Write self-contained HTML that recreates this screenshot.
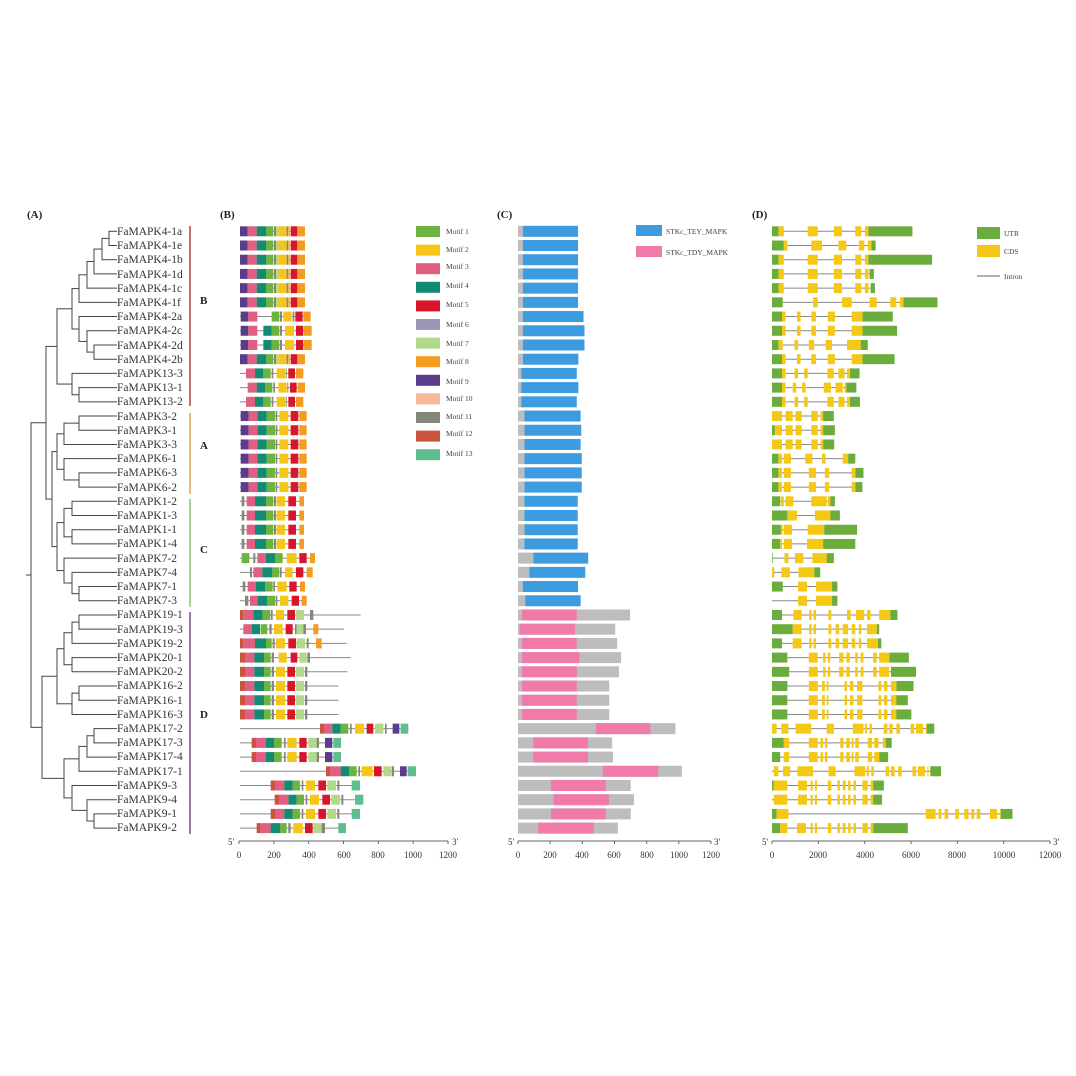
<!DOCTYPE html>
<html><head><meta charset="utf-8"><style>
html,body{margin:0;padding:0;background:#fff;}
svg{display:block;font-family:"Liberation Serif",serif;}
.g{font-size:11.5px;fill:#333;}
.t{font-size:9px;fill:#333;}
.lg{font-size:7.5px;fill:#444;}
.p{font-size:11px;font-weight:bold;fill:#222;}
</style></head><body>
<svg id="s" width="1076" height="1076" viewBox="0 0 1076 1076" xmlns="http://www.w3.org/2000/svg">
<rect width="1076" height="1076" fill="#fff"/>
<g id="shapes"></g>
<text class="p" x="27" y="218">(A)</text>
<text class="p" x="220" y="218">(B)</text>
<text class="p" x="497" y="218">(C)</text>
<text class="p" x="752" y="218">(D)</text>
<g class="g">
<text x="117" y="235">FaMAPK4-1a</text><text x="117" y="249">FaMAPK4-1e</text><text x="117" y="263">FaMAPK4-1b</text><text x="117" y="278">FaMAPK4-1d</text><text x="117" y="292">FaMAPK4-1c</text><text x="117" y="306">FaMAPK4-1f</text><text x="117" y="320">FaMAPK4-2a</text><text x="117" y="334">FaMAPK4-2c</text><text x="117" y="349">FaMAPK4-2d</text><text x="117" y="363">FaMAPK4-2b</text><text x="117" y="377">FaMAPK13-3</text><text x="117" y="391">FaMAPK13-1</text><text x="117" y="405">FaMAPK13-2</text>
<text x="117" y="420">FaMAPK3-2</text><text x="117" y="434">FaMAPK3-1</text><text x="117" y="448">FaMAPK3-3</text><text x="117" y="462">FaMAPK6-1</text><text x="117" y="476">FaMAPK6-3</text><text x="117" y="491">FaMAPK6-2</text>
<text x="117" y="505">FaMAPK1-2</text><text x="117" y="519">FaMAPK1-3</text><text x="117" y="533">FaMAPK1-1</text><text x="117" y="547">FaMAPK1-4</text><text x="117" y="562">FaMAPK7-2</text><text x="117" y="576">FaMAPK7-4</text><text x="117" y="590">FaMAPK7-1</text><text x="117" y="604">FaMAPK7-3</text>
<text x="117" y="618">FaMAPK19-1</text><text x="117" y="633">FaMAPK19-3</text><text x="117" y="647">FaMAPK19-2</text><text x="117" y="661">FaMAPK20-1</text><text x="117" y="675">FaMAPK20-2</text><text x="117" y="689">FaMAPK16-2</text><text x="117" y="704">FaMAPK16-1</text><text x="117" y="718">FaMAPK16-3</text><text x="117" y="732">FaMAPK17-2</text><text x="117" y="746">FaMAPK17-3</text><text x="117" y="760">FaMAPK17-4</text><text x="117" y="775">FaMAPK17-1</text><text x="117" y="789">FaMAPK9-3</text><text x="117" y="803">FaMAPK9-4</text><text x="117" y="817">FaMAPK9-1</text><text x="117" y="831">FaMAPK9-2</text>
</g>
<text class="p" x="200" y="304">B</text>
<text class="p" x="200" y="449">A</text>
<text class="p" x="200" y="553">C</text>
<text class="p" x="200" y="718">D</text>
<g class="lg">
<text x="446" y="234">Motif 1</text><text x="446" y="252">Motif 2</text><text x="446" y="269">Motif 3</text><text x="446" y="288">Motif 4</text><text x="446" y="307">Motif 5</text><text x="446" y="327">Motif 6</text><text x="446" y="346">Motif 7</text><text x="446" y="364">Motif 8</text><text x="446" y="384">Motif 9</text><text x="446" y="401">Motif 10</text><text x="446" y="419">Motif 11</text><text x="446" y="436">Motif 12</text><text x="446" y="456">Motif 13</text>
<text x="666" y="234">STKc_TEY_MAPK</text><text x="666" y="255">STKc_TDY_MAPK</text>
<text x="1004" y="236">UTR</text><text x="1004" y="254">CDS</text><text x="1004" y="279">Intron</text>
</g>
<g class="t" text-anchor="middle">
<text x="239" y="858">0</text><text x="274" y="858">200</text><text x="309" y="858">400</text><text x="344" y="858">600</text><text x="378" y="858">800</text><text x="413" y="858">1000</text><text x="448" y="858">1200</text>
<text x="518" y="858">0</text><text x="550" y="858">200</text><text x="582" y="858">400</text><text x="614" y="858">600</text><text x="647" y="858">800</text><text x="679" y="858">1000</text><text x="711" y="858">1200</text>
<text x="772" y="858">0</text><text x="818" y="858">2000</text><text x="865" y="858">4000</text><text x="911" y="858">6000</text><text x="957" y="858">8000</text><text x="1004" y="858">10000</text><text x="1050" y="858">12000</text>
<text x="231" y="845">5'</text><text x="455" y="845">3'</text>
<text x="511" y="845">5'</text><text x="717" y="845">3'</text>
<text x="765" y="845">5'</text><text x="1056" y="845">3'</text>
</g>
</svg>
<script>
(function(){
var NS="http://www.w3.org/2000/svg",G=document.getElementById("shapes");
function el(n,a){var e=document.createElementNS(NS,n);for(var k in a)e.setAttribute(k,a[k]);G.appendChild(e);return e;}
function R(x,y,w,h,f){el("rect",{x:x,y:y,width:Math.max(w,0.5),height:h,fill:f});}
function L(x1,y1,x2,y2,c,w){el("line",{x1:x1,y1:y1,x2:x2,y2:y2,stroke:c||"#555","stroke-width":w||1});}
function Y(i){return 231.3+i*14.21;}
// tree
function n(x,c){return {x:x,c:c};}
var B=n(57,[n(64,[n(72,[n(79,[n(87,[n(94,[n(102,[n(109,[0,1]),2]),3]),4]),5]),n(79,[6,n(87,[7,n(94,[8,9])])])]),n(72,[10,n(79,[11,12])])]),]);
B=n(57,[B.c[0],n(64,[n(72,[10,n(79,[11,12])])])]);
B=n(57,[n(72,[n(79,[n(87,[n(94,[n(102,[n(109,[0,1]),2]),3]),4]),5]),n(79,[6,n(87,[7,n(94,[8,9])])])]),n(72,[10,n(79,[11,12])])]);
var A=n(57,[n(64,[n(79,[13,14]),15]),n(64,[16,n(79,[17,18])])]);
var C=n(57,[n(64,[n(72,[19,20]),n(72,[21,22])]),n(64,[23,n(72,[24,n(79,[25,26])])])]);
var D=n(42,[n(57,[n(64,[n(72,[n(79,[27,28]),29]),n(72,[30,31])]),n(72,[n(79,[32,33]),34])]),n(57,[n(72,[n(79,[n(87,[n(94,[35,36]),37]),38])]),n(72,[39,n(87,[40,n(94,[41,42])])])])]);
D.c[1]=n(64,[n(79,[n(87,[n(94,[35,36]),37]),38]),n(72,[39,n(87,[40,n(94,[41,42])])])]);
var T=n(31,[n(49,[B,n(50,[A,C])]),D]);
T.c[0].c[1]=n(57-0,[A,C]);T.c[0].c[1].x=52;T.c[0].x=46;
function draw(nd){if(typeof nd==="number")return {y:Y(nd),x:117};
 var ys=[];nd.c.forEach(function(ch){var r=draw(ch);ys.push(r.y);L(nd.x,r.y,(typeof ch==="number")?117:ch.x,r.y,"#444",1);});
 var y0=Math.min.apply(null,ys),y1=Math.max.apply(null,ys);L(nd.x,y0-0.5,nd.x,y1+0.5,"#444",1);return {y:(y0+y1)/2,x:nd.x};}
var rt=draw(T);L(26,rt.y,31,rt.y,"#444",1);
// group bars
L(190,226,190,406,"#b5423a",1.5);L(190,413,190,494,"#e0a455",1.5);L(190,499,190,607,"#8cc56a",1.5);L(190,612,190,834,"#7a4f8a",1.5);
// motif colors
var MC={1:"#6db33f",2:"#f5c518",3:"#e25f82",4:"#138a72",5:"#d7152b",6:"#9b98b5",7:"#b2d98a",8:"#f39c1f",9:"#5a3d8a",10:"#f6b899",11:"#85877a",12:"#c8553d",13:"#5dbf8e"};
for(var i=0;i<13;i++)R(416,226+i*18.6,24,11,MC[i+1]);
function px(x){return 20+x/3;}
var t0=[660,855,[[9,660,683],[3,683,710],[4,710,738],[1,738,760],[11,762,768],[7,768,775],[2,775,800],[11,800,805],[2,805,810],[5,812,832],[8,832,855]]];
var t6=[660,872,[[9,662,685],[3,685,712],[1,755,778],[11,780,786],[2,790,815],[11,818,823],[5,826,848],[8,850,872]]];
var t7=[660,875,[[9,662,685],[3,685,712],[4,730,755],[1,755,778],[11,780,786],[2,795,822],[5,828,850],[8,852,875]]];
var t10=[660,850,[[3,678,705],[4,705,730],[1,730,752],[11,755,760],[2,770,795],[11,797,800],[5,805,825],[8,828,850]]];
var t13=[660,860,[[9,662,686],[3,686,712],[4,712,740],[1,740,765],[11,767,772],[2,778,805],[5,812,835],[8,838,860]]];
var t19=[660,852,[[11,665,673],[3,680,705],[4,705,738],[1,738,760],[11,762,768],[2,770,795],[5,805,828],[8,838,852]]];
var t16=[660,955,[[12,660,675],[3,675,703],[4,703,732],[1,732,752],[11,755,762],[2,768,795],[5,802,825],[7,828,852],[11,855,862]]];
var t36=[660,963,[[12,695,708],[3,708,737],[4,737,762],[1,762,785],[11,792,797],[2,802,830],[5,838,860],[7,865,890],[11,890,897],[9,915,937],[13,940,963]]];
function sh(t,d,e){return [t[0],e||t[1]+d,t[2].map(function(s){return [s[0],s[1]+d,s[2]+d];})];}
var M=[t0,t0,t0,t0,t0,t0,t6,t7,t7,t0,t10,sh(t10,5),t10,t13,t13,t13,t13,t13,t13,t19,t19,t19,t19,
[660,885,[[1,665,688],[11,700,706],[3,712,738],[4,738,765],[1,765,788],[2,800,830],[5,838,860],[8,870,885]]],
[660,878,[[11,690,696],[3,700,727],[4,727,757],[1,757,778],[11,780,785],[2,795,818],[5,828,850],[8,860,878]]],
[660,855,[[11,668,676],[3,683,707],[4,707,735],[1,735,758],[11,760,765],[2,772,800],[5,808,830],[8,840,855]]],
[660,860,[[11,675,685],[3,690,712],[4,712,742],[1,742,765],[11,767,772],[2,780,805],[5,815,837],[8,845,860]]],
[660,1022,[[12,660,670],[3,670,700],[4,700,728],[1,728,750],[11,752,758],[2,768,792],[5,802,825],[7,828,852],[11,870,880]]],
[660,972,[[3,670,695],[4,695,720],[1,722,742],[11,748,755],[2,762,788],[5,797,818],[11,825,830],[7,830,850],[11,850,858],[8,880,895]]],
[660,980,[[12,660,670],[3,670,705],[4,705,738],[1,738,755],[11,758,764],[2,768,795],[5,805,828],[7,830,855],[11,860,866],[8,888,905]]],
[660,992,[[12,660,675],[3,675,703],[4,703,732],[1,732,752],[11,755,762],[2,776,800],[5,812,832],[7,838,860],[11,862,870]]],
sh(t16,0,982),t16,t16,t16,
[660,1165,[[12,900,912],[3,912,937],[4,937,962],[1,962,985],[11,990,995],[2,1005,1032],[5,1040,1060],[7,1065,1090],[11,1095,1100],[9,1118,1138],[13,1142,1165]]],
t36,t36,
[660,1188,[[12,918,930],[3,930,962],[4,962,988],[1,988,1010],[11,1015,1020],[2,1025,1058],[5,1062,1085],[7,1090,1113],[11,1115,1122],[9,1140,1160],[13,1163,1188]]],
[660,1020,[[12,752,765],[3,765,793],[4,793,818],[1,818,840],[11,845,850],[2,858,885],[5,895,918],[7,922,948],[11,952,958],[13,995,1020]]],
null,null,
[660,978,[[12,710,722],[3,722,752],[4,752,780],[1,780,800],[11,805,812],[2,820,848],[5,855,878],[7,880,905],[11,905,915],[13,955,978]]]];
M[40]=sh(M[39],12);M[40][2][9]=[13,1005,1030];M[40][1]=1030;M[41]=M[39];
M.forEach(function(r,i){var y=Y(i);L(px(r[0]),y,px(r[1]),y,"#888",1);
 r[2].forEach(function(s){R(px(s[1]),y-5,(s[2]-s[1])/3,10,MC[s[0]]);});});
// axes
function axis(x0,x1,n){var y=841;L(x0,y,x1,y,"#666",1);for(var k=0;k<=n;k++){var x=x0+(x1-x0)*k/n;L(x,y,x,y+3,"#666",1);}}
axis(239,448,6);axis(518,711,6);axis(772,1050,6);
// panel C
var cs=0.161;
function cb(i,g,a,b,col){var y=Y(i);R(518,y-5.5,g*cs,11,"#bdbdbd");R(518+a*cs,y-5.5,(b-a)*cs,11,col);}
var blue="#3d9be0",pink="#f07aaa";
R(636,225,26,11,blue);R(636,246,26,11,pink);
var ce=[373,373,373,373,373,373,407,413,413,375,365,375,365,389,393,389,396,396,396,371,371,371,371];
ce.forEach(function(e,i){var gs=i<10?30:(i<13?20:40);R(518,Y(i)-5.5,gs*cs,11,"#bdbdbd");R(518+gs*cs,Y(i)-5.5,(e-gs)*cs,11,blue);});
[[23,95,436],[24,70,418],[25,30,373],[26,45,389]].forEach(function(r){R(518,Y(r[0])-5.5,r[1]*cs,11,"#bdbdbd");R(518+r[1]*cs,Y(r[0])-5.5,(r[2]-r[1])*cs,11,blue);});
[[27,25,365,696],[28,10,355,604],[29,25,365,616],[30,25,380,640],[31,25,365,627],[32,25,365,567],[33,25,365,567],[34,25,365,567],[35,484,822,978],[36,95,435,585],[37,95,435,590],[38,527,871,1018],[39,205,545,700],[40,220,565,720],[41,205,545,700],[42,125,470,620]].forEach(function(r){cb(r[0],r[3],r[1],r[2],pink);});
// panel D
var green="#6aad3c",yel="#f5c816";
R(977,227,23,12,green);R(977,245,23,12,yel);L(977,276,1000,276,"#666",1);
function dx(x){return 772+(x-762)*278/778;}
var e0=[[780,795],[862,890],[935,958],[995,1012],[1022,1032]];
var e6=[[790,800],[832,842],[872,885],[918,938],[985,1015]];
var e10=[[790,800],[825,835],[852,862],[917,935],[948,965],[972,980]];
var e13=[[762,790],[800,820],[828,845],[872,890],[898,905]];
var e16=[[780,790],[795,815],[860,880],[906,917],[975,990]];
var e19=[[787,795],[800,822],[872,915],[918,925]];
var e28=[[820,845],[866,873],[878,885],[920,928],[940,950],[960,975],[985,995],[1005,1012],[1028,1055]];
var e30=[[865,890],[905,912],[918,925],[950,962],[970,980],[995,1002],[1010,1018],[1045,1055],[1062,1090]];
var e32=[[865,890],[902,910],[915,920],[965,972],[980,990],[1000,1015],[1060,1068],[1075,1085],[1095,1110]];
var e35=[[762,775],[788,808],[828,872],[915,935],[988,1018],[1022,1028],[1035,1042],[1075,1085],[1090,1100],[1110,1120],[1150,1160],[1165,1185],[1192,1195]];
var e36=[[795,810],[865,890],[898,905],[910,917],[953,962],[970,980],[985,990],[995,1005],[1030,1042],[1048,1060],[1072,1080]];
var e39=[[767,805],[835,860],[870,876],[882,888],[918,928],[945,952],[960,968],[975,982],[990,997],[1015,1030],[1038,1045]];
var DD=[[1155,780,1032,e0],[1052,795,1040,[[795,805],[872,902],[948,970],[1005,1020],[1030,1040]]],[1210,785,1032,e0],[1047,790,1035,e0],[1050,790,1038,e0],
[1225,792,1130,[[877,890],[958,985],[1035,1055],[1093,1110],[1120,1130]]],[1100,790,1015,e6],[1112,790,1015,e6],[1030,780,1010,[[780,792],[825,835],[865,880],[912,930],[972,1010]]],[1105,790,1015,e6],
[1007,790,980,e10],[998,790,970,[[790,800],[820,830],[846,856],[907,927],[940,960],[965,970]]],[1008,790,980,e10],
[935,762,905,e13],[938,770,905,[[770,790],[800,820],[828,845],[872,890],[898,905]]],[936,762,905,e13],
[995,780,975,[[780,790],[795,815],[855,875],[902,912],[960,975]]],[1018,780,995,[[780,790],[795,815],[865,885],[910,922],[985,995]]],[1015,780,995,[[780,790],[795,815],[865,885],[910,922],[985,995]]],
[938,785,925,e19],[952,805,925,[[805,812],[812,832],[882,925]]],[1000,787,908,[[787,792],[795,818],[862,908]]],[995,785,905,[[785,790],[795,818],[860,905]]],
[935,764,915,[[797,808],[826,850],[875,915]]],[897,768,880,[[762,768],[788,812],[836,880]]],[945,792,930,[[835,860],[885,930]]],[945,763,930,[[835,860],[885,930]]],
[1113,790,1093,[[822,845],[866,873],[878,885],[920,928],[972,982],[997,1020],[1028,1038],[1062,1093]]],[1062,820,1055,e28],[1068,790,1058,[[820,845],[866,873],[878,885],[920,928],[940,950],[960,975],[985,995],[1005,1012],[1028,1058]]],
[1145,805,1090,e30],[1165,810,1095,e30],[1158,805,1110,e32],[1142,805,1105,e32],[1152,805,1105,e32],
[1216,762,1195,e35],[1097,795,1080,e36],[1087,785,1062,e36.slice(0,10).concat([[1055,1062]])],[1235,762,1205,e35.map(function(e){return [e[0]+5,e[1]+5];})],
[1075,767,1045,e39],[1070,762,1045,e39],[1435,775,1402,[[775,808],[1192,1220],[1228,1236],[1245,1255],[1275,1285],[1300,1312],[1320,1328],[1335,1345],[1372,1392],[1400,1402]]],[1142,785,1045,[[785,805],[832,857],[870,876],[882,888],[918,928],[945,952],[960,968],[975,982],[990,997],[1015,1030],[1038,1045]]]];
DD.forEach(function(r,i){var y=Y(i);L(dx(762),y,dx(r[0]),y,"#888",1);
 if(r[1]>763)R(dx(762),y-5,dx(r[1])-dx(762),10,green);
 R(dx(r[2]),y-5,dx(r[0])-dx(r[2]),10,green);
 r[3].forEach(function(e){R(dx(e[0]),y-5,dx(e[1])-dx(e[0]),10,yel);});});
})();
</script>
</body></html>
